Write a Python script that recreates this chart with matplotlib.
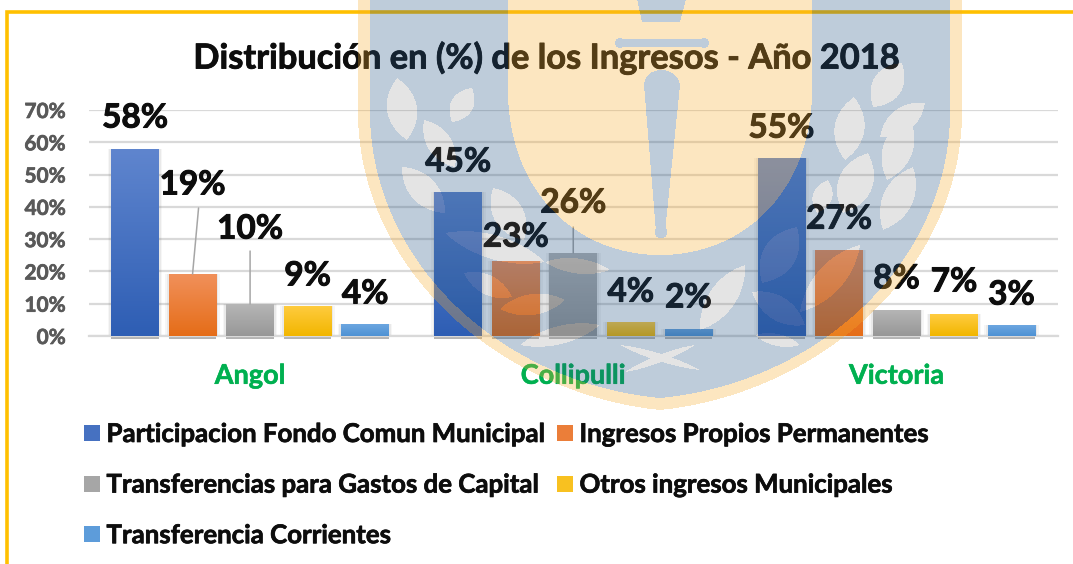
import numpy as np
import matplotlib
matplotlib.use('Agg')
import matplotlib.pyplot as plt
import matplotlib.patheffects as pe
from matplotlib.path import Path
from matplotlib.lines import Line2D
from matplotlib.colors import LinearSegmentedColormap

plt.rcParams['font.family'] = ['Lato', 'DejaVu Sans']
plt.rcParams['font.weight'] = 'bold'

# Data
comunas = ['Angol', 'Collipulli', 'Victoria']
fondo_comun = [0.579, 0.446, 0.551]
ingresos_propios = [0.192, 0.232, 0.266]
transf_capital = [0.099, 0.257, 0.081]
otros_ingresos = [0.093, 0.043, 0.068]
transf_corrientes = [0.037, 0.022, 0.034]
series_names = ['Participacion Fondo Comun Municipal', 'Ingresos Propios Permanentes',
                'Transferencias para Gastos de Capital', 'Otros ingresos Municipales',
                'Transferencia Corrientes']
yticks = [0, 0.1, 0.2, 0.3, 0.4, 0.5, 0.6, 0.7]
ytick_labels = ['0%', '10%', '20%', '30%', '40%', '50%', '60%', '70%']

series = [fondo_comun, ingresos_propios, transf_capital, otros_ingresos, transf_corrientes]
gradients = [('#5F85CE', '#2E5EB4'), ('#F1905A', '#E56D18'), ('#B6B6B6', '#979797'),
             ('#FFCC40', '#F2B600'), ('#6CA6E0', '#4E92D4')]
# label height above each bar top, pixels (per series, per comuna)
label_dy = [[31, 30, 30], [89, 24, 31], [75, 50, 31], [30, 30, 32], [30, 31, 30]]

W, H = 1073, 564
fig = plt.figure(figsize=(W / 100, H / 100), dpi=100)
ax = fig.add_axes([88.5 / W, 1 - 336 / H, (1058 - 88.5) / W, 226 / H])

def thick(w=0.5, c='#0d0d0d'):
    return [pe.withStroke(linewidth=w, foreground=c)]

bar_w, bar_step = 0.147, 0.178
for i, vals in enumerate(series):
    xs = np.arange(3) + (i - 2) * bar_step
    # soft shadow
    for grow, a in [(0.022, 0.05), (0.012, 0.08)]:
        ax.bar(xs, np.array(vals) + 0.004, bar_w + grow, bottom=-0.004, color='#555555', alpha=a, zorder=2, clip_on=False)
    ax.bar(xs, 0.008, bar_w, bottom=-0.008, color='#444444', alpha=0.4, zorder=2, clip_on=False)
    bars = ax.bar(xs, vals, bar_w, color=gradients[i][1], zorder=3)
    cmap = LinearSegmentedColormap.from_list('g%d' % i, gradients[i])
    for b, x, v in zip(bars, xs, vals):
        im = ax.imshow(np.linspace(0, 1, 64).reshape(-1, 1), cmap=cmap, aspect='auto', zorder=3.1,
                       extent=[x - bar_w / 2, x + bar_w / 2, 0, v], origin='upper')
        im.set_clip_path(b)
    for j, (x, v) in enumerate(zip(xs, vals)):
        ax.annotate(f'{v:.0%}', (x, v), xytext=(0, label_dy[i][j] * 0.72), textcoords='offset points',
                    ha='center', va='center', fontsize=24, color='#0d0d0d', zorder=6, path_effects=thick(0.7))

# leader lines for the labels moved away from their bars
for x_off, c, v, dy, lean in [(-1, 0, ingresos_propios[0], 66, 6), (0, 0, transf_capital[0], 53, 0), (0, 1, transf_capital[1], 26, 0)]:
    ax.annotate('', (c + x_off * bar_step, v), xytext=(lean * 0.72, dy * 0.72), textcoords='offset points',
                arrowprops=dict(arrowstyle='-', color='#A6A6A6', lw=1.1, shrinkA=0, shrinkB=0), zorder=4)

ax.set_xlim(-0.5, 2.5)
ax.set_ylim(0, 0.7)
ax.set_yticks(yticks)
ax.set_yticklabels(ytick_labels, fontsize=15, color='#595959', path_effects=thick(0.5, '#595959'))
ax.set_xticks(range(3))
ax.set_xticklabels(comunas, fontsize=19.5, color='#00B050', path_effects=thick(0.4, '#00B050'))
ax.tick_params(axis='both', length=0)
ax.tick_params(axis='y', pad=16.5)
ax.tick_params(axis='x', pad=20)
ax.grid(axis='y', color='#D9D9D9', lw=1.6, zorder=1)
ax.set_axisbelow(True)
for s in ['top', 'right', 'left']:
    ax.spines[s].set_visible(False)
ax.spines['bottom'].set_color('#D9D9D9')
ax.spines['bottom'].set_linewidth(1.6)
ax.patch.set_alpha(0)

fig.text(547 / W, 1 - 58 / H, 'Distribución en (%) de los Ingresos - Año 2018', ha='center', va='center',
         fontsize=24.8, color='#0d0d0d', zorder=3, path_effects=thick(0.6))

# legend, filled by column
order = [0, 2, 4, 1, 3]
handles = [Line2D([], [], ls='', marker='s', ms=11.5, mew=0,
                  color=LinearSegmentedColormap.from_list('m', gradients[i])(0.5)) for i in order]
leg = fig.legend(handles, [series_names[i] for i in order], ncols=2, frameon=False, fontsize=18.6,
                 loc='upper left', bbox_to_anchor=(84 / W, 1 - 422 / H), bbox_transform=fig.transFigure,
                 borderpad=0, borderaxespad=0, handlelength=0.62, handletextpad=0.25,
                 columnspacing=0.35, labelspacing=1.03, labelcolor='#0d0d0d')
for t in leg.get_texts():
    t.set_path_effects(thick(0.5))

# frame behind everything
bg = fig.add_axes([0, 0, 1, 1], zorder=-1)
bg.set_xlim(0, W); bg.set_ylim(H, 0); bg.axis('off')
bg.plot([7, 7, W], [H, 12, 12], color='#FFC000', lw=2.6, solid_joinstyle='miter')

# university crest watermark, rastered over the chart in pixel coordinates
def bez(p0, p1, p2, p3, n=40):
    t = np.linspace(0, 1, n)[:, None]
    p0, p1, p2, p3 = map(np.array, (p0, p1, p2, p3))
    return (1 - t)**3 * p0 + 3 * (1 - t)**2 * t * p1 + 3 * (1 - t) * t**2 * p2 + t**3 * p3

def shield(half, top, shoulder, tip, c1, c2, cx=660):
    left = bez((cx - half, shoulder), (cx - half + c1[0], c1[1]), (cx - c2[0], c2[1]), (cx, tip))
    right = left[::-1].copy()
    right[:, 0] = 2 * cx - right[:, 0]
    return np.vstack([[(cx - half, top)], left, right, [(cx + half, top)]])

def leaf(a, b, w):
    a, b = np.array(a, float), np.array(b, float)
    d = b - a
    n = np.array([-d[1], d[0]]) / np.hypot(*d) * w
    side1 = bez(a, a + d * 0.3 + n, a + d * 0.7 + n, b, 16)
    side2 = bez(b, a + d * 0.7 - n, a + d * 0.3 - n, a, 16)
    return np.vstack([side1, side2])

px, py = np.meshgrid(np.arange(W) + 0.5, np.arange(H) + 0.5)
grid = np.column_stack([px.ravel(), py.ravel()])

def mask(poly):
    return Path(poly).contains_points(grid).reshape(H, W)

outer = mask(shield(302, -2, 120, 410, (6, 280), (150, 395)))
middle = mask(shield(290, -2, 120, 398, (6, 272), (150, 384)))
inner = mask(shield(152, -2, 90, 255, (0, 190), (85, 255)))

sword = mask([(637, -1), (686, -1), (680, 22), (642, 22)])
sword |= (px > 620) & (px < 704) & (np.abs(py - 43) < 4)
sword |= (np.hypot(px - 620, py - 43) < 5) | (np.hypot(px - 704, py - 43) < 5)
sword |= mask(np.vstack([bez((644, 85), (645, 65), (677, 65), (680, 85)), [(665, 232), (656, 232)]]))
sword |= np.hypot(px - 661, py - 232) < 6.5

leaves = [((397, 78), (407, 140), 20), ((472, 88), (452, 122), 15), ((424, 120), (455, 167), 16),
          ((402, 167), (445, 213), 18), ((493, 188), (524, 240), 20), ((445, 233), (545, 262), 16),
          ((464, 273), (512, 297), 13), ((500, 309), (565, 300), 14), ((902, 63), (873, 107), 20),
          ((854, 97), (845, 160), 20), ((925, 103), (880, 137), 16), ((909, 117), (887, 180), 20),
          ((868, 153), (843, 213), 23), ((913, 167), (883, 230), 20), ((828, 180), (817, 213), 13),
          ((797, 227), (762, 283), 22), ((752, 292), (805, 325), 16), ((745, 265), (700, 330), 18),
          ((860, 245), (800, 312), 18), ((755, 335), (800, 345), 8), ((620, 345), (700, 370), 5),
          ((695, 345), (625, 372), 5), ((600, 325), (520, 345), 12), ((610, 270), (545, 262), 10)]
leaf_mask = np.zeros((H, W), bool)
for a, b, w in leaves:
    leaf_mask |= mask(leaf(a, b, w))
leaf_mask &= middle & ~inner

rgba = np.zeros((H, W, 4))
rgba[outer] = [0.973, 0.675, 0.176, 0.30]
rgba[middle] = [0.149, 0.333, 0.514, 0.30]
rgba[inner] = [0.973, 0.675, 0.176, 0.30]
rgba[sword] = [0.149, 0.333, 0.514, 0.30]
rgba[leaf_mask] = [0.478, 0.478, 0.478, 0.20]

ov = fig.add_axes([0, 0, 1, 1], zorder=5)
ov.axis('off')
ov.imshow(rgba, extent=[0, W, H, 0], aspect='auto', interpolation='nearest')

fig.savefig('out.png', dpi=100)
